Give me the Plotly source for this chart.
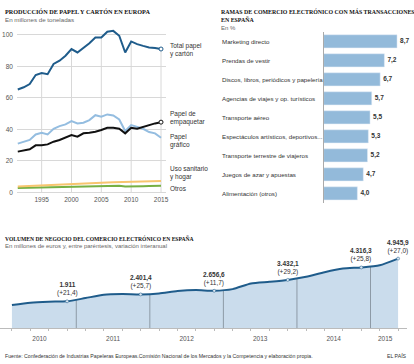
import plotly.graph_objects as go

W, H = 414, 364
def px(x): return x / W
def py(y): return 1 - y / H

# ---------------- Data ----------------
years = list(range(1991, 2016))
total = [65.3, 66.7, 68.8, 74.5, 75.8, 75.0, 81.5, 83.6, 86.7, 91.0, 88.8, 91.6, 94.7,
         98.3, 98.3, 102.0, 102.5, 99.4, 88.8, 95.8, 94.1, 93.0, 92.0, 91.6, 91.0]
grafico = [31.0, 32.0, 33.3, 36.8, 37.9, 36.8, 40.4, 42.1, 43.2, 45.3, 43.8, 44.2, 45.9,
           49.0, 48.0, 49.5, 48.8, 46.3, 39.0, 42.7, 41.7, 40.4, 38.3, 37.5, 34.7]
empaquetar = [25.9, 26.7, 27.4, 29.9, 29.9, 30.5, 32.2, 33.3, 34.7, 36.4, 35.4, 37.5, 37.9,
              38.5, 39.6, 41.0, 41.0, 40.4, 37.5, 41.0, 40.4, 41.7, 42.5, 43.8, 44.6]
sanitario = [3.8, 4.0, 4.1, 4.3, 4.5, 4.6, 4.8, 5.0, 5.2, 5.4, 5.5, 5.7, 5.8,
             6.0, 6.2, 6.3, 6.4, 6.5, 6.6, 6.8, 6.9, 7.0, 7.1, 7.2, 7.3]
otros = [2.8, 2.9, 3.0, 3.1, 3.2, 3.3, 3.4, 3.5, 3.7, 3.8, 3.6, 3.7, 3.9,
         4.0, 4.2, 4.3, 4.4, 4.2, 3.8, 4.0, 4.0, 4.0, 4.1, 4.1, 4.2]
left_ticks_x = [1995, 2000, 2005, 2010, 2015]
left_ticks_y = [0, 20, 40, 60, 80, 100]

ramas = ["Marketing directo", "Prendas de vestir", "Discos, libros, periódicos y papelería",
         "Agencias de viajes y op. turísticos", "Transporte aéreo",
         "Espectáculos artísticos, deportivos...", "Transporte terrestre de viajeros",
         "Juegos de azar y apuestas", "Alimentación (otros)"]
ramas_pct = [8.7, 7.2, 6.7, 5.7, 5.5, 5.3, 5.2, 4.7, 4.0]
ramas_txt = ["8,7", "7,2", "6,7", "5,7", "5,5", "5,3", "5,2", "4,7", "4,0"]

trimestres = ["2010T1", "2010T2", "2010T3", "2010T4", "2011T1", "2011T2", "2011T3", "2011T4",
              "2012T1", "2012T2", "2012T3", "2012T4", "2013T1", "2013T2", "2013T3", "2013T4",
              "2014T1", "2014T2", "2014T3", "2014T4", "2015T1", "2015T2"]
volumen = [1645, 1814, 1884, 1911.0, 2140, 2376, 2424, 2401.4, 2471, 2635, 2706, 2656.6,
           2777, 3177, 3295, 3432.1, 3648, 3977, 4236, 4316.3, 4470, 4945.9]
etiq_idx = [3, 7, 11, 15, 19, 21]
etiq_val = ["1.911", "2.401,4", "2.656,6", "3.432,1", "4.316,3", "4.945,9"]
etiq_var = ["(+21,4)", "(+25,7)", "(+11,7)", "(+29,2)", "(+25,8)", "(+27,0)"]
anios = ["2010", "2011", "2012", "2013", "2014", "2015"]
anio_pos = [1.5, 5.5, 9.5, 13.5, 17.5, 20.3]

# ---------------- Styles ----------------
SANS = "Liberation Sans"
SERIF = "Liberation Serif"
C_TOTAL = "#1f5c8b"
C_GRAF = "#94bde0"
C_EMP = "#111111"
C_SAN = "#f7c56e"
C_OTR = "#76b043"
C_GRID = "#d8d8d8"
C_TXT = "#333333"
C_SUB = "#666666"

fig = go.Figure()

# ---------------- Left chart ----------------
vx, vy = [], []
for yr in left_ticks_x:
    vx += [yr, yr, None]
    vy += [0, total[years.index(yr)], None]
fig.add_trace(go.Scatter(x=vx, y=vy, mode="lines", line=dict(color=C_GRID, width=1),
                         hoverinfo="skip", xaxis="x", yaxis="y"))
for ser, col in [(otros, C_OTR), (sanitario, C_SAN), (grafico, C_GRAF),
                 (empaquetar, C_EMP), (total, C_TOTAL)]:
    fig.add_trace(go.Scatter(x=years, y=ser, mode="lines", line=dict(color=col, width=2),
                             xaxis="x", yaxis="y"))
for ser, col in [(empaquetar, C_EMP), (total, C_TOTAL)]:
    fig.add_trace(go.Scatter(x=years[-1:], y=ser[-1:], mode="markers",
                             marker=dict(size=4, color="white", line=dict(color=col, width=1)),
                             xaxis="x", yaxis="y"))

# ---------------- Right chart ----------------
fig.add_trace(go.Bar(x=ramas_pct, y=ramas, orientation="h", marker_color="#93bada",
                     text=ramas_txt, textposition="outside", cliponaxis=False,
                     textfont=dict(family=SANS, size=6.5, color=C_TXT),
                     texttemplate="<b>%{text}</b>",
                     xaxis="x2", yaxis="y2"))

# ---------------- Bottom chart ----------------
qx = list(range(len(trimestres)))
fig.add_trace(go.Scatter(x=qx, y=volumen, mode="lines", fill="tozeroy",
                         fillcolor="#cadcec", line=dict(color="rgba(0,0,0,0)", width=0, shape="spline", smoothing=0.6),
                         xaxis="x3", yaxis="y3"))
bx, by = [], []
for i in etiq_idx[:-1]:
    b = i + 0.5
    bx += [b, b, None]
    by += [0, (volumen[i] + volumen[i + 1]) / 2, None]
fig.add_trace(go.Scatter(x=bx, y=by, mode="lines", line=dict(color="#8d9aa6", width=1),
                         xaxis="x3", yaxis="y3"))
fig.add_trace(go.Scatter(x=qx, y=volumen, mode="lines",
                         line=dict(color=C_TOTAL, width=2, shape="spline", smoothing=0.6),
                         xaxis="x3", yaxis="y3"))
fig.add_trace(go.Scatter(x=etiq_idx, y=[volumen[i] for i in etiq_idx], mode="markers",
                         marker=dict(size=3, color="#dbe7f2", line=dict(color=C_TOTAL, width=0.5)),
                         xaxis="x3", yaxis="y3"))

# ---------------- Annotations ----------------
ann = []
def txt(x, y, s, size=6.5, color=C_TXT, family=SANS, xanchor="left", yanchor="middle", **kw):
    ann.append(dict(x=x, y=y, text=s, showarrow=False, xanchor=xanchor, yanchor=yanchor,
                    font=dict(family=family, size=size, color=color), **kw))

# titles
txt(px(3), py(11.5), "<b>PRODUCCIÓN DE PAPEL Y CARTÓN EN EUROPA</b>", size=6.2, color="#111", family=SERIF,
    xref="paper", yref="paper")
txt(px(3), py(19.5), "En millones de toneladas", size=6.2, color=C_SUB, xref="paper", yref="paper")
txt(px(221), py(15.5), "<b>RAMAS DE COMERCIO ELECTRÓNICO CON MÁS TRANSACCIONES<br>EN ESPAÑA</b>",
    size=5.9, color="#111", family=SERIF, xref="paper", yref="paper", align="left")
txt(px(221), py(28), "En %", size=6.0, color=C_SUB, xref="paper", yref="paper")
txt(px(3), py(239.5), "<b>VOLUMEN DE NEGOCIO DEL COMERCIO ELECTRÓNICO EN ESPAÑA</b>", size=5.6,
    color="#111", family=SERIF, xref="paper", yref="paper")
txt(px(3), py(247.5), "En millones de euros y, entre paréntesis, variación interanual", size=6.0,
    color=C_SUB, xref="paper", yref="paper")
txt(px(3), py(358), "Fuente: Confederación de Industrias Papeleras Europeas.Comisión Nacional de los Mercados y la Competencia y elaboración propia.",
    size=5.2, color=C_TXT, xref="paper", yref="paper")
txt(px(412), py(358), "EL PAÍS", size=5.2, color=C_TXT, xanchor="right", xref="paper", yref="paper")

# left series labels
for s, yv in [("Total papel<br>y cartón", 90.5), ("Papel de<br>empaquetar", 47.5),
              ("Papel<br>gráfico", 32.8), ("Uso sanitario<br>y hogar", 12.4), ("Otros", 2.6)]:
    txt(px(169), yv, s, size=6.5, color=C_TXT, xref="paper", yref="y", align="left")

# right category labels
for r in ramas:
    txt(px(222), r, r, size=6.2, color=C_TXT, xref="paper", yref="y2")

# bottom value labels
for i, v, var in zip(etiq_idx, etiq_val, etiq_var):
    txt(i, volumen[i], f"<b>{v}</b><br>{var}", size=6.5, color=C_TXT, xanchor="center",
        yanchor="bottom", yshift=2, xref="x3", yref="y3", align="center")

axfont = dict(family=SANS, size=6.5, color="#555")
fig.update_layout(
    width=W, height=H, margin=dict(l=0, r=0, t=0, b=0),
    paper_bgcolor="white", plot_bgcolor="white", showlegend=False,
    annotations=ann, bargap=0.31,
    xaxis=dict(domain=[px(17), px(167)], range=[1990.85, 2015.8], tickvals=left_ticks_x,
               showgrid=False, zeroline=False, ticks="", tickfont=axfont, fixedrange=True),
    yaxis=dict(domain=[py(195.1), py(25.5)], range=[-1, 106], tickvals=left_ticks_y,
               showgrid=True, gridcolor=C_GRID, gridwidth=1, zeroline=False, ticks="",
               tickfont=axfont, ticklabelstandoff=3),
    xaxis2=dict(domain=[px(326), px(411)], range=[0, 10], visible=False, anchor="y2"),
    yaxis2=dict(domain=[py(204), py(32)], autorange="reversed", showticklabels=False,
                showline=True, linecolor="#aaaaaa", linewidth=1, ticks="", anchor="x2",
                showgrid=False),
    xaxis3=dict(domain=[0, px(410)], range=[-0.648, 21.486], tickvals=anio_pos, ticktext=anios,
                showgrid=False, zeroline=False, showline=True, linecolor="#bbbbbb", linewidth=1,
                ticks="", tickfont=axfont, anchor="y3", ticklabelstandoff=4,
                minor=dict(tickvals=qx, ticks="outside", ticklen=2, tickcolor="#bbbbbb")),
    yaxis3=dict(domain=[py(330), py(255)], range=[0, 5300], visible=False, anchor="x3"),
)

fig.write_html("out.html", config={"displayModeBar": False},
               post_script="document.body.style.margin='0';document.body.style.overflow='hidden';")
